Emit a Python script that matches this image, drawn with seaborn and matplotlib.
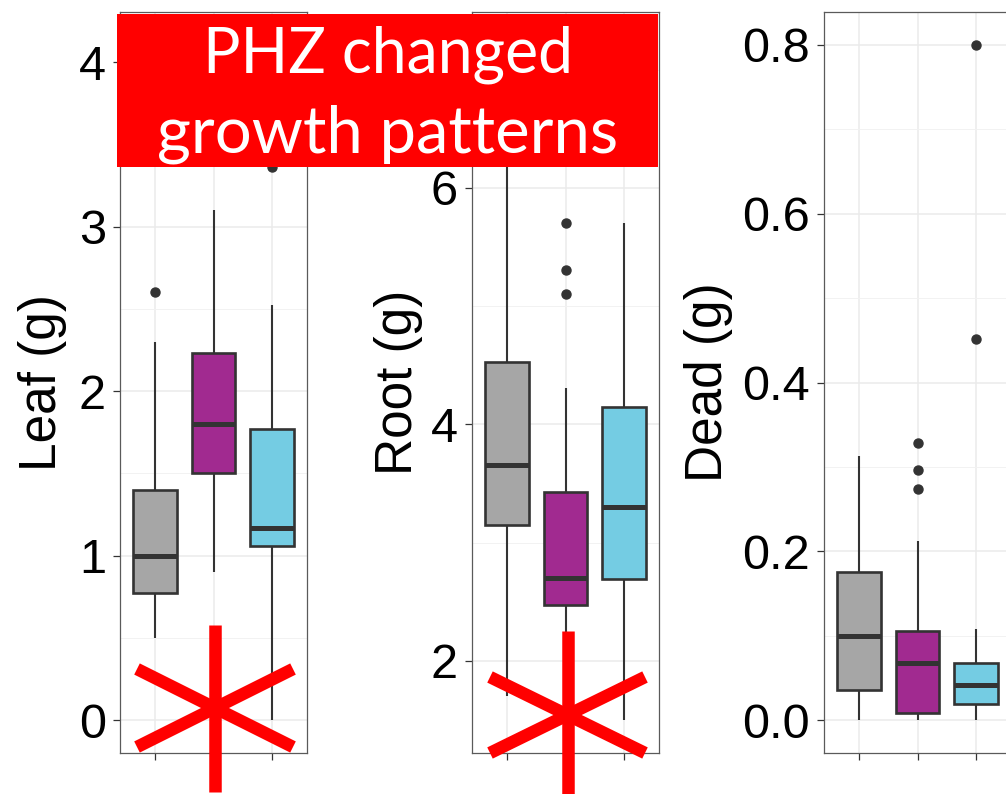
import numpy as np
import pandas as pd
import matplotlib
matplotlib.use("Agg")
import matplotlib.pyplot as plt
import seaborn as sns
from matplotlib.patches import Rectangle
from matplotlib.lines import Line2D
from matplotlib.ticker import FixedLocator, FormatStrFormatter

# ---------------- data ----------------
groups = ["Group 1", "Group 2", "Group 3"]
colors = ["#A6A6A6", "#A12A90", "#74CCE3"]

# Leaf (g)
leaf_lo = [0.50, 0.90, 0.00]
leaf_q1 = [0.77, 1.50, 1.06]
leaf_med = [1.00, 1.80, 1.17]
leaf_q3 = [1.40, 2.23, 1.77]
leaf_hi = [2.30, 3.10, 2.52]
leaf_out = [[2.60], [], [3.36]]

# Root (g)
root_lo = [1.70, 2.10, 1.50]
root_q1 = [3.15, 2.47, 2.69]
root_med = [3.66, 2.70, 3.30]
root_q3 = [4.53, 3.43, 4.15]
root_hi = [6.50, 4.31, 5.70]
root_out = [[], [5.10, 5.31, 5.70], []]

# Dead (g)
dead_lo = [0.000, 0.000, 0.000]
dead_q1 = [0.036, 0.008, 0.019]
dead_med = [0.100, 0.068, 0.041]
dead_q3 = [0.175, 0.105, 0.068]
dead_hi = [0.313, 0.212, 0.108]
dead_out = [[], [0.274, 0.296, 0.328], [0.452, 0.800]]

leaf_ticks = [0, 1, 2, 3, 4]
root_ticks = [2, 4, 6]
dead_ticks = [0.0, 0.2, 0.4, 0.6, 0.8]

banner_lines = ["PHZ changed", "growth patterns"]


def observations(lo, q1, med, q3, hi, out, m=4):
    top = [q3] * (m - 1 - len(out)) + [hi] + list(out)
    return [lo] + [q1] * m + [med] * m + [q3] * m + top


def long_frame(lo, q1, med, q3, hi, out):
    rows = []
    for i, g in enumerate(groups):
        for v in observations(lo[i], q1[i], med[i], q3[i], hi[i], out[i]):
            rows.append({"group": g, "value": v})
    return pd.DataFrame(rows)


# ---------------- figure ----------------
sns.set_theme(style="white")
plt.rcParams["font.family"] = ["Liberation Sans", "DejaVu Sans"]

W, H = 1006, 794
fig = plt.figure(figsize=(W / 100, H / 100), dpi=100)

panels = [
    ("Leaf (g)", long_frame(leaf_lo, leaf_q1, leaf_med, leaf_q3, leaf_hi, leaf_out),
     120, (-0.2006, 4.304), leaf_ticks, [0.5, 1.5, 2.5, 3.5], "%d", -0.283),
    ("Root (g)", long_frame(root_lo, root_q1, root_med, root_q3, root_hi, root_out),
     472, (1.222, 7.488), root_ticks, [3, 5, 7], "%d", -0.262),
    ("Dead (g)", long_frame(dead_lo, dead_q1, dead_med, dead_q3, dead_hi, dead_out),
     824, (-0.039, 0.839), dead_ticks, [0.1, 0.3, 0.5, 0.7], "%.1f", -0.487),
]

ax_w, ax_top, ax_bot = 187, 12, 753
for label, df, left, ylim, ticks, minor, fmt, labx in panels:
    ax = fig.add_axes([left / W, 1 - ax_bot / H, ax_w / W, (ax_bot - ax_top) / H])
    sns.boxplot(
        data=df, x="group", y="value", hue="group", order=groups, hue_order=groups,
        palette=colors, legend=False, ax=ax, width=0.75, linecolor="#333333",
        linewidth=1.9, showcaps=False, saturation=1,
        medianprops=dict(linewidth=3.6, color="#333333"),
        whiskerprops=dict(linewidth=1.5, color="#333333"),
        flierprops=dict(marker="o", markersize=6.5, markerfacecolor="#333333",
                        markeredgecolor="#333333"),
    )
    ax.set_xlim(-0.6, 2.6)
    ax.set_ylim(*ylim)
    ax.yaxis.set_major_locator(FixedLocator(ticks))
    ax.yaxis.set_minor_locator(FixedLocator(minor))
    ax.yaxis.set_major_formatter(FormatStrFormatter(fmt))
    ax.set_xticks(range(len(groups)))
    ax.set_xticklabels([""] * len(groups))
    ax.set_xlabel("")
    ax.set_axisbelow(True)
    ax.grid(which="major", color="#EBEBEB", linewidth=1.1)
    ax.grid(which="minor", axis="y", color="#F2F2F2", linewidth=0.7)
    ax.tick_params(axis="both", which="major", direction="out", length=5, width=0.9,
                   color="#333333", labelsize=35, labelcolor="black", pad=5,
                   left=True, bottom=True)
    ax.tick_params(which="minor", length=0)
    for s in ax.spines.values():
        s.set_visible(True)
        s.set_color("#5A5A5A")
        s.set_linewidth(0.9)
    ax.set_ylabel(label, fontsize=37, color="black")
    ax.yaxis.set_label_coords(labx, 0.5)

# ---------------- overlays: banner and asterisks ----------------
def fx(x):
    return x / W


def fy(y):
    return 1 - y / H


banner = Rectangle((fx(117), fy(167)), (658 - 117) / W, (167 - 14) / H,
                   transform=fig.transFigure, facecolor="#FF0000", edgecolor="none",
                   zorder=10)
fig.add_artist(banner)
for line, base, size in zip(banner_lines, [73, 153], [45, 47]):
    t = fig.text(fx(388), fy(base), line, ha="center", va="baseline", color="white",
                 fontsize=size, family=["Lato", "DejaVu Sans"], zorder=11)
    t.set_clip_path(banner)

asterisks = [(214.5, 625, 792, 137, 293, 669, 747),
             (567.5, 631, 794, 490, 645, 677, 753)]
for cx, vy0, vy1, x0, x1, y0, y1 in asterisks:
    segs = [((cx, cx), (vy0, vy1)), ((x0, x1), (y0, y1)), ((x0, x1), (y1, y0))]
    for xs, ys in segs:
        fig.add_artist(Line2D([fx(v) for v in xs], [fy(v) for v in ys],
                              transform=fig.transFigure, color="#FF0000",
                              linewidth=9, solid_capstyle="butt", zorder=12))

fig.savefig("out.png", dpi=100)
